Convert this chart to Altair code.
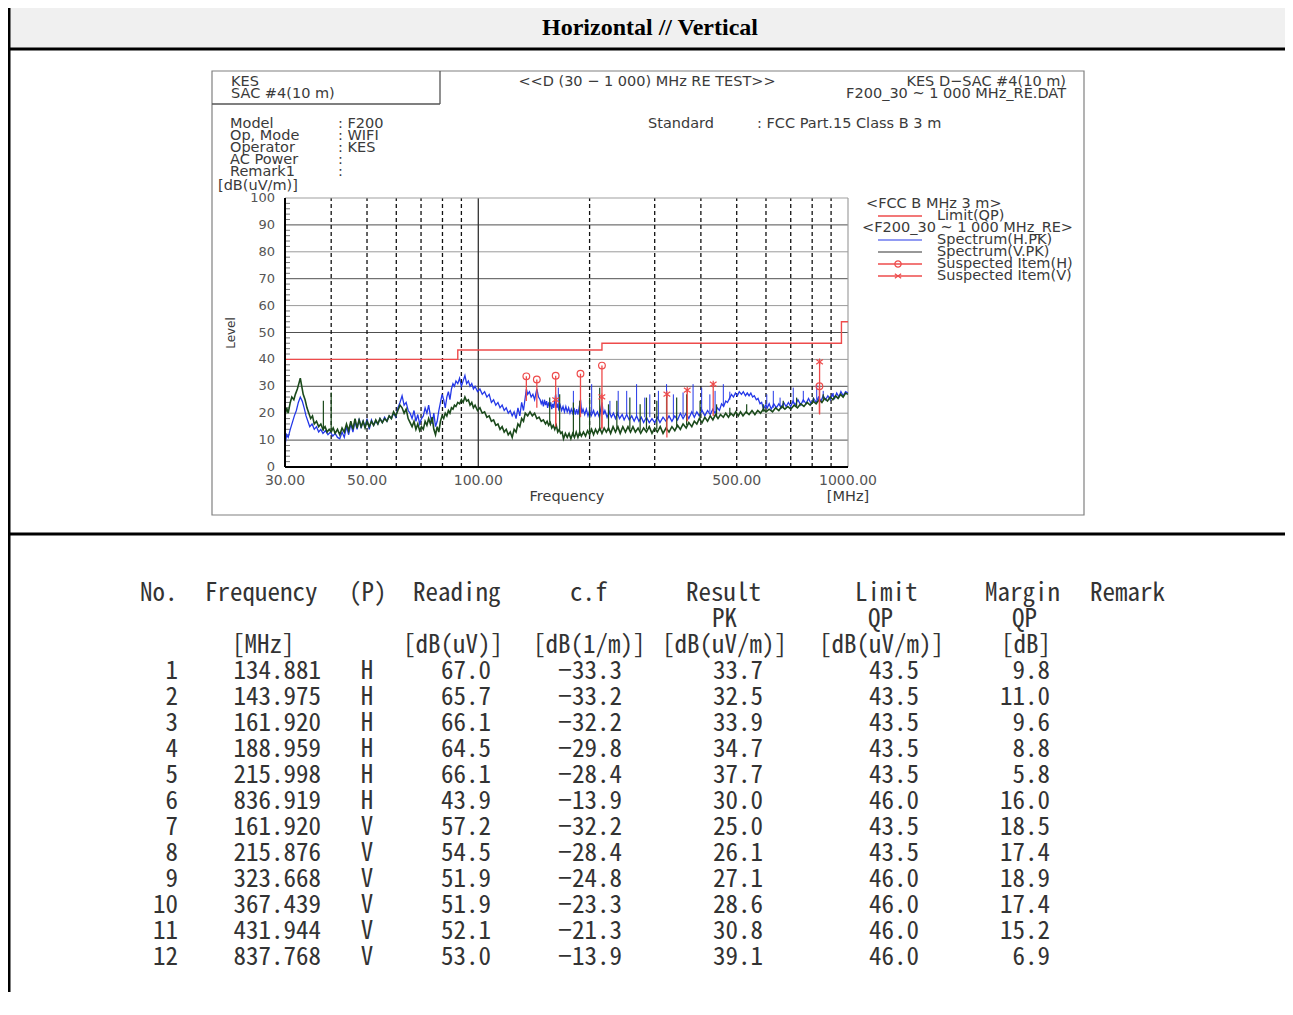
import altair as alt
import pandas as pd

# ---------------- values ----------------
# Spectrum traces: (frequency MHz, level dB(uV/m))
h_trace = [
    (30.0, 8.0), (30.3, 12.0), (30.6, 11.0), (31.0, 14.0), (31.4, 16.5), (31.8, 19.0), (32.2, 21.0),
    (32.6, 24.0), (33.0, 26.0), (33.4, 24.5), (33.8, 22.0), (34.2, 19.0), (34.6, 17.0), (35.0, 15.0),
    (35.5, 16.0), (36.0, 14.0), (36.5, 15.0), (37.0, 13.0), (37.5, 14.0), (38.0, 12.5), (38.6, 13.5),
    (39.2, 12.0), (39.8, 13.0), (40.4, 11.5), (41.0, 12.5), (41.6, 11.0), (42.2, 10.5), (42.8, 13.0),
    (43.4, 11.0), (44.0, 15.0), (44.6, 12.0), (45.2, 16.0), (45.8, 13.0), (46.4, 17.0), (47.0, 14.0),
    (47.6, 18.0), (48.2, 14.5), (48.8, 17.0), (49.4, 15.0), (50.0, 18.0), (50.7, 14.0), (51.4, 17.5),
    (52.1, 15.5), (52.8, 17.0), (53.5, 16.0), (54.2, 18.0), (55.0, 16.5), (55.8, 18.5), (56.6, 17.0),
    (57.4, 19.0), (58.2, 18.0), (59.0, 20.0), (59.8, 18.5), (60.6, 22.0), (61.4, 24.0), (62.2, 26.5),
    (63.0, 23.0), (63.8, 24.0), (64.6, 21.0), (65.4, 20.0), (66.2, 18.0), (67.0, 21.0), (67.8, 17.0),
    (68.6, 19.5), (69.4, 16.0), (70.2, 18.0), (71.0, 19.0), (71.8, 22.0), (72.6, 20.0), (73.4, 23.0),
    (74.2, 19.0), (75.0, 16.0), (75.8, 20.0), (76.6, 15.0), (77.4, 17.0), (78.2, 21.0), (79.0, 24.0),
    (79.8, 27.0), (80.6, 25.0), (81.4, 22.0), (82.2, 26.0), (83.0, 28.0), (83.8, 25.0), (84.6, 29.0),
    (85.4, 31.0), (86.2, 30.0), (87.0, 32.0), (88.0, 31.0), (89.0, 33.0), (90.0, 30.0), (91.0, 32.0),
    (92.0, 34.0), (93.0, 31.0), (94.0, 32.0), (95.0, 30.0), (96.0, 31.0), (97.0, 29.0), (98.0, 30.0),
    (99.5, 28.0), (101.0, 29.0), (102.5, 27.0), (104.0, 28.0), (105.5, 26.0), (107.0, 27.0), (108.5, 24.0),
    (110.0, 25.0), (111.5, 23.0), (113.0, 24.0), (114.5, 22.0), (116.0, 23.0), (117.5, 21.0), (119.0, 22.0),
    (120.5, 20.0), (122.0, 21.0), (123.5, 19.0), (125.0, 20.5), (126.5, 18.0), (128.0, 22.0), (129.5, 19.0),
    (131.0, 24.0), (132.5, 21.0), (134.9, 29.0), (136.0, 27.0), (137.5, 28.0), (139.0, 26.0), (140.5, 27.0),
    (142.0, 25.0), (144.0, 29.0), (145.5, 26.0), (147.0, 25.0), (148.0, 23.5), (149.0, 24.5), (150.0, 22.5),
    (151.0, 25.0), (152.0, 23.0), (153.0, 24.5), (154.0, 22.0), (155.0, 24.0), (156.0, 22.5), (157.0, 24.0),
    (158.0, 21.5), (159.0, 23.5), (160.0, 22.0), (161.9, 27.0), (163.0, 22.0), (164.0, 23.5), (165.0, 21.5),
    (166.5, 23.0), (168.0, 21.0), (169.5, 22.5), (171.0, 20.5), (172.5, 22.5), (174.0, 20.5), (175.5, 22.0),
    (177.0, 20.0), (178.5, 21.5), (180.0, 20.0), (181.5, 22.0), (183.0, 19.5), (184.5, 21.5), (186.0, 19.5),
    (189.0, 25.0), (190.5, 20.0), (192.0, 21.5), (194.0, 19.5), (196.0, 21.5), (198.0, 19.0), (200.0, 21.0),
    (202.0, 19.0), (205.0, 21.0), (207.0, 19.0), (210.0, 20.5), (212.5, 18.5), (216.0, 24.0), (218.0, 19.5),
    (220.0, 21.0), (223.0, 18.5), (226.0, 20.5), (229.0, 18.5), (232.0, 20.0), (235.0, 18.0), (238.0, 20.0),
    (241.0, 18.0), (245.0, 19.5), (248.0, 17.5), (252.0, 19.5), (256.0, 17.5), (260.0, 19.0), (264.0, 17.0),
    (268.0, 19.0), (272.0, 17.0), (276.0, 18.5), (280.0, 16.5), (285.0, 18.5), (290.0, 16.5), (295.0, 18.0),
    (300.0, 16.5), (305.0, 18.5), (310.0, 16.5), (316.0, 18.5), (322.0, 17.0), (328.0, 19.0), (334.0, 17.0),
    (340.0, 19.0), (346.0, 17.5), (352.0, 20.0), (358.0, 18.0), (365.0, 20.0), (371.0, 18.0), (378.0, 20.5),
    (384.0, 18.5), (390.0, 20.5), (396.0, 19.0), (403.0, 21.0), (410.0, 19.0), (417.0, 21.0), (424.0, 19.5),
    (431.0, 21.5), (437.0, 20.0), (443.0, 22.0), (449.0, 21.0), (455.0, 23.5), (461.0, 22.5), (467.0, 24.5),
    (472.0, 24.0), (478.0, 25.5), (484.0, 27.0), (490.0, 26.0), (496.0, 27.5), (502.0, 26.5), (508.0, 28.0),
    (515.0, 27.0), (521.0, 28.0), (528.0, 26.5), (534.0, 27.5), (540.0, 26.5), (546.0, 27.5), (552.0, 26.0),
    (558.0, 26.5), (565.0, 25.0), (571.0, 25.5), (578.0, 23.5), (584.0, 24.0), (591.0, 21.5), (598.0, 23.0),
    (605.0, 22.0), (612.0, 23.5), (620.0, 21.5), (630.0, 23.5), (640.0, 22.0), (650.0, 23.5), (660.0, 22.0),
    (670.0, 24.0), (680.0, 22.5), (690.0, 24.0), (700.0, 22.5), (710.0, 24.5), (720.0, 23.0), (732.0, 25.0),
    (745.0, 23.0), (757.0, 25.0), (770.0, 23.5), (782.0, 25.5), (795.0, 23.5), (807.0, 25.5), (820.0, 24.0),
    (832.0, 26.0), (845.0, 24.5), (857.0, 26.5), (870.0, 25.0), (882.0, 26.5), (895.0, 25.0), (907.0, 27.0),
    (920.0, 25.5), (932.0, 27.5), (945.0, 26.0), (957.0, 28.0), (970.0, 26.5), (985.0, 28.0), (1000.0, 27.5),
]

v_trace = [
    (30.0, 19.0), (30.3, 22.0), (30.6, 20.0), (31.0, 24.0), (31.3, 26.0), (31.7, 25.0), (32.0, 27.0),
    (32.4, 29.0), (32.7, 31.0), (33.0, 33.0), (33.3, 30.0), (33.6, 27.0), (34.0, 25.0), (34.4, 22.0),
    (34.8, 20.0), (35.2, 18.0), (35.6, 19.0), (36.0, 16.0), (36.5, 17.0), (37.0, 15.0), (37.5, 16.0),
    (38.0, 14.0), (38.5, 15.0), (39.0, 13.0), (39.5, 14.0), (40.0, 13.0), (40.5, 14.5), (41.0, 12.5),
    (41.6, 14.0), (42.2, 12.0), (42.8, 14.5), (43.4, 13.0), (44.0, 16.0), (44.6, 13.5), (45.2, 17.0),
    (45.8, 14.0), (46.4, 18.0), (47.0, 14.5), (47.6, 17.5), (48.2, 15.0), (48.8, 17.0), (49.4, 14.5),
    (50.0, 17.0), (50.7, 15.0), (51.4, 17.0), (52.1, 15.5), (52.8, 17.5), (53.5, 16.0), (54.2, 18.0),
    (55.0, 16.5), (55.8, 18.0), (56.6, 17.0), (57.4, 19.0), (58.2, 18.0), (59.0, 20.5), (59.8, 19.0),
    (60.6, 21.0), (61.4, 23.0), (62.2, 22.0), (63.0, 20.0), (63.8, 21.5), (64.6, 18.0), (65.4, 16.5),
    (66.2, 15.0), (67.0, 17.0), (67.8, 14.0), (68.6, 16.0), (69.4, 13.5), (70.2, 15.0), (71.0, 14.0),
    (71.8, 17.0), (72.6, 15.5), (73.4, 18.0), (74.2, 16.0), (75.0, 18.5), (75.8, 14.0), (76.6, 12.0),
    (77.4, 15.0), (78.2, 13.0), (79.0, 17.0), (79.8, 19.0), (80.6, 18.0), (81.4, 20.0), (82.2, 19.0),
    (83.0, 21.0), (83.8, 20.0), (84.6, 22.0), (85.4, 21.5), (86.2, 23.0), (87.0, 22.5), (88.0, 24.0),
    (89.0, 23.5), (90.0, 25.0), (91.0, 24.0), (92.0, 26.0), (93.0, 24.5), (94.0, 25.0), (95.0, 23.0),
    (96.0, 24.0), (97.0, 22.0), (98.0, 23.0), (99.5, 21.0), (101.0, 22.0), (102.5, 20.0), (104.0, 20.5),
    (105.5, 18.5), (107.0, 19.0), (108.5, 17.0), (110.0, 17.5), (111.5, 15.5), (113.0, 16.0), (114.5, 14.0),
    (116.0, 15.0), (117.5, 13.0), (119.0, 14.0), (120.5, 12.0), (122.0, 13.0), (123.5, 11.0), (125.0, 14.0),
    (126.5, 13.0), (128.0, 16.0), (129.5, 15.0), (131.0, 18.0), (132.5, 17.0), (134.0, 20.0), (136.0, 19.0),
    (138.0, 20.5), (140.0, 19.0), (142.0, 20.0), (144.0, 18.0), (146.0, 18.5), (148.0, 17.0), (150.0, 17.5),
    (152.0, 16.0), (153.5, 17.0), (155.0, 15.5), (156.5, 16.5), (158.0, 14.5), (159.5, 15.5), (161.0, 14.0),
    (162.5, 15.5), (164.0, 13.0), (165.5, 14.0), (167.0, 12.5), (168.5, 13.0), (170.0, 10.5), (172.0, 12.5),
    (174.0, 11.0), (176.0, 12.5), (178.0, 10.5), (180.0, 12.5), (182.0, 11.0), (184.0, 13.0), (186.0, 11.0),
    (188.0, 13.0), (190.0, 11.5), (192.5, 13.0), (195.0, 11.5), (197.5, 13.5), (200.0, 12.0), (202.5, 14.0),
    (205.0, 12.0), (207.5, 14.0), (210.0, 12.5), (213.0, 14.5), (216.0, 12.5), (219.0, 14.5), (222.0, 13.0),
    (225.0, 14.5), (228.0, 12.5), (231.5, 15.0), (235.0, 13.0), (238.5, 15.0), (242.0, 12.5), (246.0, 15.0),
    (250.0, 13.0), (254.0, 15.0), (258.0, 13.0), (262.0, 15.0), (266.0, 13.0), (270.5, 14.5), (275.0, 12.5),
    (280.0, 14.5), (285.0, 13.0), (290.0, 15.0), (295.0, 12.5), (300.0, 14.5), (305.0, 13.0), (310.5, 15.0),
    (316.0, 12.5), (322.0, 14.5), (328.0, 13.0), (334.0, 15.0), (340.0, 13.5), (346.0, 15.5), (352.0, 14.0),
    (358.0, 16.0), (365.0, 14.5), (371.0, 16.5), (378.0, 15.0), (384.0, 17.0), (390.0, 16.0), (396.0, 18.0),
    (403.0, 16.5), (410.0, 18.5), (417.0, 17.0), (424.0, 19.0), (431.0, 17.5), (438.0, 19.5), (445.0, 18.0),
    (452.0, 19.5), (460.0, 18.5), (467.0, 20.0), (475.0, 18.5), (482.0, 20.0), (490.0, 19.0), (497.0, 20.5),
    (505.0, 19.0), (512.0, 20.5), (520.0, 19.0), (530.0, 20.5), (540.0, 19.5), (550.0, 21.0), (560.0, 19.5),
    (570.0, 21.0), (580.0, 20.0), (590.0, 21.5), (600.0, 20.5), (612.0, 21.5), (625.0, 20.5), (637.0, 22.0),
    (650.0, 21.0), (662.0, 22.5), (675.0, 21.5), (687.0, 22.5), (700.0, 21.5), (715.0, 23.0), (730.0, 22.0),
    (745.0, 23.5), (760.0, 22.5), (775.0, 24.0), (790.0, 23.0), (805.0, 24.5), (820.0, 23.5), (835.0, 25.0),
    (850.0, 24.0), (865.0, 25.5), (880.0, 24.5), (895.0, 26.0), (910.0, 25.0), (925.0, 26.5), (940.0, 25.5),
    (955.0, 27.0), (970.0, 26.0), (985.0, 27.5), (1000.0, 27.0),
]

# narrow spikes: (frequency, base level, top level)
h_spikes = [
    (164.6, 22.0, 29.5), (180.8, 21.0, 28.3), (202.6, 20.0, 30.8), (227.0, 19.5, 24.6), (239.0, 19.5, 28.3),
    (252.0, 19.5, 28.3), (268.0, 19.0, 30.8), (282.0, 18.5, 25.8), (291.0, 18.5, 27.0), (307.0, 18.0, 28.3),
    (323.0, 18.0, 30.8), (337.0, 18.0, 27.0), (358.0, 19.0, 27.7), (381.0, 20.0, 30.8), (402.0, 20.5, 29.5),
    (423.0, 20.5, 27.0), (437.0, 21.0, 28.3), (460.0, 23.0, 30.8), (479.0, 25.0, 28.0), (603.0, 22.5, 27.0),
    (628.0, 22.0, 28.3), (655.0, 22.5, 25.8), (711.0, 23.5, 29.5), (757.0, 24.0, 28.3), (823.0, 25.0, 30.8),
    (857.0, 25.5, 28.3), (912.0, 26.0, 27.5),
]
v_spikes = [
    (38.1, 13.5, 24.6), (40.0, 13.0, 27.7), (156.0, 16.5, 25.8), (166.0, 14.0, 27.0), (180.8, 11.5, 24.0),
    (188.0, 11.5, 24.6), (200.0, 13.0, 25.8), (213.0, 13.5, 29.5), (225.0, 13.5, 23.3), (237.0, 14.0, 24.6),
    (257.0, 14.0, 25.8), (274.0, 13.5, 23.3), (285.0, 14.0, 25.8), (304.0, 14.0, 24.6), (323.0, 14.0, 27.0),
    (344.0, 14.5, 25.8), (366.0, 15.5, 27.0), (398.0, 17.5, 24.6), (441.0, 18.5, 23.3), (479.0, 19.0, 22.0),
    (532.0, 20.0, 23.3), (590.0, 20.5, 23.3), (668.0, 22.0, 24.6), (726.0, 22.5, 25.8), (806.0, 24.0, 25.8),
    (857.0, 25.0, 27.0),
]

limit_freq = [30, 88, 216, 960, 1000]
limit_level = [40.0, 43.5, 46.0, 54.0, 54.0]

# suspected items / result table
item_no = list(range(1, 13))
item_freq = [134.881, 143.975, 161.920, 188.959, 215.998, 836.919,
             161.920, 215.876, 323.668, 367.439, 431.944, 837.768]
item_pol = ["H"] * 6 + ["V"] * 6
item_reading = [67.0, 65.7, 66.1, 64.5, 66.1, 43.9, 57.2, 54.5, 51.9, 51.9, 52.1, 53.0]
item_cf = [-33.3, -33.2, -32.2, -29.8, -28.4, -13.9, -32.2, -28.4, -24.8, -23.3, -21.3, -13.9]
item_result = [33.7, 32.5, 33.9, 34.7, 37.7, 30.0, 25.0, 26.1, 27.1, 28.6, 30.8, 39.1]
item_limit = [43.5, 43.5, 43.5, 43.5, 43.5, 46.0, 43.5, 43.5, 46.0, 46.0, 46.0, 46.0]
item_margin = [9.8, 11.0, 9.6, 8.8, 5.8, 16.0, 18.5, 17.4, 18.9, 17.4, 15.2, 6.9]
item_stem_base = [24.5, 22.0, 16.0, 18.5, 14.5, 20.0, 15.0, 14.0, 11.0, 17.0, 19.0, 19.5]

x_tick_values = [30, 50, 100, 500, 1000]
y_tick_values = [0, 10, 20, 30, 40, 50, 60, 70, 80, 90, 100]
grid_dashed_freq = [40, 50, 60, 70, 80, 90, 200, 300, 400, 500, 600, 700, 800, 900]
grid_solid_freq = [100]
grid_level_dark = [10, 30, 50, 70, 90]
grid_level_light = [20, 40, 60, 80]
minor_levels = [lv for lv in range(2, 100, 2) if lv % 10]

# texts
page_title = "Horizontal // Vertical"
head_left = ["KES", "SAC #4(10 m)"]
head_center = "<<D (30 − 1 000) MHz RE TEST>>"
head_right = ["KES D−SAC #4(10 m)", "F200_30 ~ 1 000 MHz_RE.DAT"]
info_labels = ["Model", "Op, Mode", "Operator", "AC Power", "Remark1"]
info_values = [": F200", ": WIFI", ": KES", ":", ":"]
standard_label = ["Standard", ": FCC Part.15 Class B 3 m"]
y_unit = "[dB(uV/m)]"
y_title = "Level"
x_title = "Frequency"
x_unit = "[MHz]"
legend_groups = ["<FCC B MHz 3 m>", "<F200_30 ~ 1 000 MHz_RE>"]
legend_items = ["Limit(QP)", "Spectrum(H.PK)", "Spectrum(V.PK)", "Suspected Item(H)", "Suspected Item(V)"]
table_head1 = ["No.", "Frequency", "(P)", "Reading", "c.f", "Result", "Limit", "Margin", "Remark"]
table_head2 = ["PK", "QP", "QP"]
table_head3 = ["[MHz]", "[dB(uV)]", "[dB(1/m)]", "[dB(uV/m)]", "[dB(uV/m)]", "[dB]"]

# ---------------- colours / fonts ----------------
RED = "#ee4b4b"
BLUE = "#2438e8"
GREEN = "#1b4a1b"
TXT = "#3a3a3a"
CF = "DejaVu Sans"
CS = 14.5
TF = "Noto Sans Mono CJK KR, Liberation Mono, monospace"
TS = 25

# ---------------- layout (page pixel coordinates) ----------------
PLOT_L, PLOT_T, PLOT_W, PLOT_H = 285, 198, 563, 269
TOTAL_W, TOTAL_H = 1277, 992
PX = alt.Scale(domain=[0, 1300], range=[-PLOT_L, 1300 - PLOT_L], zero=False, nice=False)
PY = alt.Scale(domain=[0, 1015], range=[-PLOT_T, 1015 - PLOT_T], zero=False, nice=False)


def pxy(x="x", y="y"):
    return dict(x=alt.X(f"{x}:Q", scale=PX, axis=None), y=alt.Y(f"{y}:Q", scale=PY, axis=None))


def texts(items, align="left", font=CF, size=CS, color=TXT, weight="normal", angle=0):
    df = pd.DataFrame(items, columns=["t", "x", "y"])
    return alt.Chart(df).mark_text(
        align=align, baseline="middle", font=font, fontSize=size, color=color,
        fontWeight=weight, angle=angle
    ).encode(text="t:N", **pxy())


def rules(items, color, width, dash=None):
    df = pd.DataFrame(items, columns=["x", "y", "x2", "y2"])
    kw = dict(color=color, strokeWidth=width)
    if dash:
        kw["strokeDash"] = dash
    return alt.Chart(df).mark_rule(**kw).encode(x2="x2:Q", y2="y2:Q", **pxy())


# background / frame
bg_df = pd.DataFrame([(8, 7, 1285, 48)], columns=["x", "y", "x2", "y2"])
header_bg = alt.Chart(bg_df).mark_rect(fill="#f0f0f0").encode(x2="x2:Q", y2="y2:Q", **pxy())
box_df = pd.DataFrame([(212, 71, 1084, 515)], columns=["x", "y", "x2", "y2"])
chart_box = alt.Chart(box_df).mark_rect(fillOpacity=0, stroke="#808080", strokeWidth=1.2).encode(
    x2="x2:Q", y2="y2:Q", **pxy())
page_lines = rules([(9, 5, 9, 992), (8, 5, 1285, 5), (8, 49, 1285, 49), (8, 534, 1285, 534)], "#000", 3)
inner_lines = rules([(212, 104, 440, 104), (440, 71, 440, 104)], "#555", 1.3)

background = alt.layer(header_bg, chart_box, page_lines, inner_lines)

# ---------------- spectrum plot (data space) ----------------
xs = alt.Scale(type="log", domain=[30, 1000], nice=False)
ys = alt.Scale(domain=[0, 100], nice=False, zero=False)
hidden_axis = alt.Axis(labels=False, ticks=False, domain=False, grid=False, title=None)


def X(f):
    return alt.X(f, type="quantitative", scale=xs, axis=hidden_axis)


def Y(f):
    return alt.Y(f, type="quantitative", scale=ys, axis=hidden_axis)


hg_dark = alt.Chart(pd.DataFrame({"lv": grid_level_dark})).mark_rule(color="#505050", strokeWidth=1).encode(
    y=Y("lv"), x=alt.datum(30), x2=alt.datum(1000))
hg_light = alt.Chart(pd.DataFrame({"lv": grid_level_light})).mark_rule(color="#9a9a9a", strokeWidth=1).encode(
    y=Y("lv"), x=alt.datum(30), x2=alt.datum(1000))
vg_dash = alt.Chart(pd.DataFrame({"f": grid_dashed_freq})).mark_rule(
    color="#111", strokeWidth=1.3, strokeDash=[4, 3]).encode(x=X("f"), y=alt.datum(0), y2=alt.datum(100))
vg_solid = alt.Chart(pd.DataFrame({"f": grid_solid_freq})).mark_rule(color="#333", strokeWidth=1.3).encode(
    x=X("f"), y=alt.datum(0), y2=alt.datum(100))
minor = alt.Chart(pd.DataFrame({"lv": minor_levels})).mark_rule(color="#777", strokeWidth=1).encode(
    y=Y("lv"), x=alt.value(0), x2=alt.value(5))
frame_gray = alt.Chart(pd.DataFrame({"k": [0]})).mark_rule(color="#a0a0a0", strokeWidth=1.2).encode(
    x=alt.datum(30), x2=alt.datum(1000), y=alt.datum(100))
frame_gray2 = alt.Chart(pd.DataFrame({"k": [0]})).mark_rule(color="#a0a0a0", strokeWidth=1.2).encode(
    x=alt.datum(1000), y=alt.datum(0), y2=alt.datum(100))
frame_left = alt.Chart(pd.DataFrame({"k": [0]})).mark_rule(color="#000", strokeWidth=2).encode(
    x=alt.datum(30), y=alt.datum(0), y2=alt.datum(100))
frame_bottom = alt.Chart(pd.DataFrame({"k": [0]})).mark_rule(color="#000", strokeWidth=2).encode(
    x=alt.datum(30), x2=alt.datum(1000), y=alt.datum(0))

# tick labels (drawn as text through the data scales)
ylab = alt.Chart(pd.DataFrame({"lv": y_tick_values})).mark_text(
    align="right", baseline="middle", dx=-10, font=CF, fontSize=13, color="#555").encode(
    y=Y("lv"), x=alt.value(0), text=alt.Text("lv:Q", format="d"))
xlab = alt.Chart(pd.DataFrame({"f": x_tick_values})).mark_text(
    align="center", baseline="middle", font=CF, fontSize=14, color="#555").encode(
    x=X("f"), y=alt.value(PLOT_H + 14), text=alt.Text("f:Q", format=".2f"))

limit_df = pd.DataFrame({"f": limit_freq, "lv": limit_level})
limit_line = alt.Chart(limit_df).mark_line(interpolate="step-after", color=RED, strokeWidth=1.4).encode(
    x=X("f"), y=Y("lv"))

h_df = pd.DataFrame(h_trace, columns=["f", "lv"])
v_df = pd.DataFrame(v_trace, columns=["f", "lv"])
h_line = alt.Chart(h_df).mark_line(color=BLUE, strokeWidth=1.3, clip=True).encode(x=X("f"), y=Y("lv"))
v_line = alt.Chart(v_df).mark_line(color=GREEN, strokeWidth=1.6, clip=True).encode(x=X("f"), y=Y("lv"))
hs_df = pd.DataFrame(h_spikes, columns=["f", "b", "t"])
vs_df = pd.DataFrame(v_spikes, columns=["f", "b", "t"])
h_sp = alt.Chart(hs_df).mark_rule(color=BLUE, strokeWidth=1).encode(x=X("f"), y=Y("b"), y2="t:Q")
v_sp = alt.Chart(vs_df).mark_rule(color=GREEN, strokeWidth=1.2).encode(x=X("f"), y=Y("b"), y2="t:Q")

items_df = pd.DataFrame({"f": item_freq, "res": item_result, "base": item_stem_base, "pol": item_pol})
stems = alt.Chart(items_df).mark_rule(color=RED, strokeWidth=1.3).encode(x=X("f"), y=Y("base"), y2="res:Q")
h_mark = alt.Chart(items_df[items_df.pol == "H"]).mark_point(
    shape="circle", filled=False, color=RED, size=45, strokeWidth=1.2, opacity=1).encode(x=X("f"), y=Y("res"))
XSHAPE = "M-1,-0.7L1,0.7M1,-0.7L-1,0.7M0,-1L0,1"
v_mark = alt.Chart(items_df[items_df.pol == "V"]).mark_point(
    shape=XSHAPE, filled=False, color=RED, size=45, strokeWidth=1.2, opacity=1).encode(x=X("f"), y=Y("res"))

spectrum = alt.layer(hg_light, hg_dark, vg_dash, vg_solid, minor, frame_gray, frame_gray2, limit_line,
                     h_line, h_sp, v_line, v_sp, stems, h_mark, v_mark, frame_left, frame_bottom,
                     ylab, xlab)

# ---------------- texts of the chart sheet ----------------
info_y = [124, 136, 148, 160, 172]
sheet_left = [(head_left[0], 231, 82), (head_left[1], 231, 94)]
sheet_left += [(t, 230, y) for t, y in zip(info_labels, info_y)]
sheet_left += [(t, 338, y) for t, y in zip(info_values, info_y)]
sheet_left += [(standard_label[0], 648, 124), (standard_label[1], 757, 124), (y_unit, 218, 186)]
sheet_left += [(legend_groups[0], 866, 204), (legend_groups[1], 862, 228)]
legend_y = [216, 240, 252, 264, 276]
sheet_left += [(t, 937, y) for t, y in zip(legend_items, legend_y)]
sheet_center = [(head_center, 647, 82), (x_title, 567, 497), (x_unit, 848, 497)]
sheet_right = [(head_right[0], 1066, 82), (head_right[1], 1066, 94)]

t_left = texts(sheet_left)
t_center = texts(sheet_center, align="center")
t_right = texts(sheet_right, align="right")
t_level = texts([(y_title, 231, 333)], align="center", size=12, angle=270)
t_title = texts([(page_title, 650, 28)], align="center", font="Liberation Serif", size=24,
                color="#000", weight="bold")

# legend samples
leg_red = rules([(878, 216, 922, 216), (878, 264, 922, 264), (878, 276, 922, 276)], RED, 1.3)
leg_blue = rules([(878, 240, 922, 240)], BLUE, 1.2)
leg_dark = rules([(878, 252, 922, 252)], "#333", 1.2)
leg_circ = alt.Chart(pd.DataFrame([(898, 264)], columns=["x", "y"])).mark_point(
    shape="circle", filled=False, color=RED, size=40, strokeWidth=1.2, opacity=1).encode(**pxy())
leg_x = alt.Chart(pd.DataFrame([(898, 276)], columns=["x", "y"])).mark_point(
    shape="M-1,-0.7L1,0.7M1,-0.7L-1,0.7", filled=False, color=RED, size=40, strokeWidth=1.2,
    opacity=1).encode(**pxy())

# ---------------- result table ----------------
head1_x = [140, 205, 349, 413, 570, 686, 855, 985, 1090]
head2_x = [712, 868, 1012]
head3_x = [232, 403, 533, 662, 819, 1001]
tab_left = [(t, x, 593) for t, x in zip(table_head1, head1_x)]
tab_left += [(t, x, 619) for t, x in zip(table_head2, head2_x)]
tab_left += [(t, x, 645) for t, x in zip(table_head3, head3_x)]


def fmt(v, d):
    return f"{v:.{d}f}".replace("-", "−")


row_y = [671 + 26 * i for i in range(len(item_no))]
tab_right = []
tab_center = []
for i, y in enumerate(row_y):
    tab_right += [
        (str(item_no[i]), 178, y), (fmt(item_freq[i], 3), 321, y), (fmt(item_reading[i], 1), 491, y),
        (fmt(item_cf[i], 1), 622, y), (fmt(item_result[i], 1), 763, y), (fmt(item_limit[i], 1), 919, y),
        (fmt(item_margin[i], 1), 1050, y),
    ]
    tab_center.append((item_pol[i], 367, y))

TC = "#333333"
tt_left = texts(tab_left, font=TF, size=TS, color=TC)
tt_right = texts(tab_right, align="right", font=TF, size=TS, color=TC)
tt_center = texts(tab_center, align="center", font=TF, size=TS, color=TC)

foreground = alt.layer(t_left, t_center, t_right, t_level, t_title, leg_red, leg_blue, leg_dark,
                       leg_circ, leg_x, tt_left, tt_right, tt_center)

chart = alt.layer(background, spectrum, foreground).resolve_scale(
    x="independent", y="independent"
).properties(
    width=PLOT_W, height=PLOT_H,
    padding={"left": PLOT_L - 8, "top": PLOT_T - 8,
             "right": TOTAL_W - (PLOT_L - 8) - PLOT_W, "bottom": TOTAL_H - (PLOT_T - 8) - PLOT_H},
    autosize=alt.AutoSizeParams(type="none"),
    background="white",
).configure_view(stroke=None)

chart.save("out.html", embed_options={"renderer": "svg", "actions": False})
